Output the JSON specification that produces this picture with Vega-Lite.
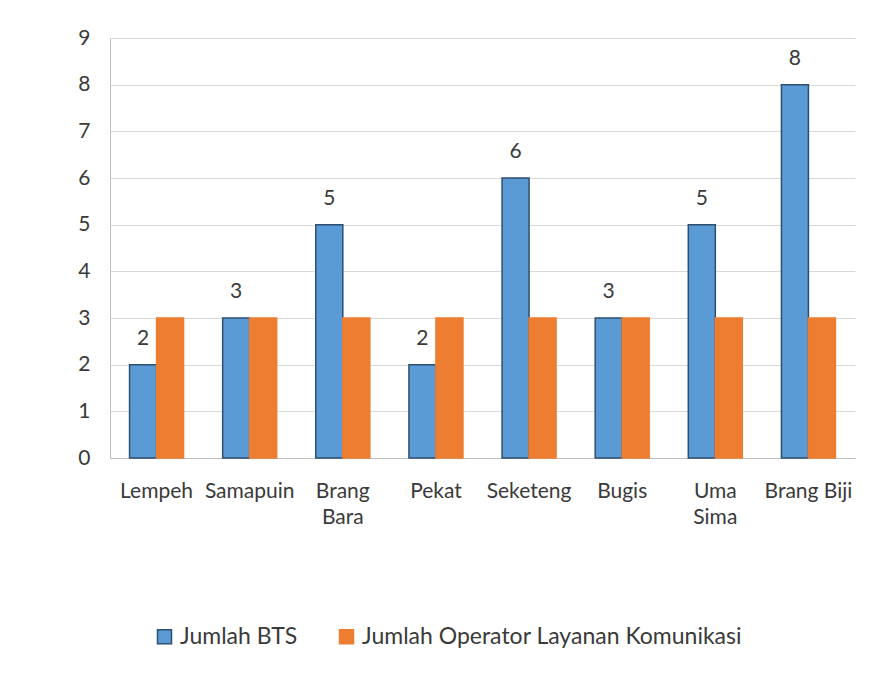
{
  "$schema": "https://vega.github.io/schema/vega-lite/v6.json",
  "width": 745,
  "height": 420,
  "autosize": "none",
  "padding": {"left": 110, "top": 38, "right": 28, "bottom": 220},
  "background": "white",
  "config": {"font": "Lato", "view": {"stroke": null}},
  "data": {"values": [
    {"kategori": "Lempeh", "seri": "Jumlah BTS", "nilai": 2},
    {"kategori": "Lempeh", "seri": "Jumlah Operator Layanan Komunikasi", "nilai": 3},
    {"kategori": "Samapuin", "seri": "Jumlah BTS", "nilai": 3},
    {"kategori": "Samapuin", "seri": "Jumlah Operator Layanan Komunikasi", "nilai": 3},
    {"kategori": "Brang Bara", "seri": "Jumlah BTS", "nilai": 5},
    {"kategori": "Brang Bara", "seri": "Jumlah Operator Layanan Komunikasi", "nilai": 3},
    {"kategori": "Pekat", "seri": "Jumlah BTS", "nilai": 2},
    {"kategori": "Pekat", "seri": "Jumlah Operator Layanan Komunikasi", "nilai": 3},
    {"kategori": "Seketeng", "seri": "Jumlah BTS", "nilai": 6},
    {"kategori": "Seketeng", "seri": "Jumlah Operator Layanan Komunikasi", "nilai": 3},
    {"kategori": "Bugis", "seri": "Jumlah BTS", "nilai": 3},
    {"kategori": "Bugis", "seri": "Jumlah Operator Layanan Komunikasi", "nilai": 3},
    {"kategori": "Uma Sima", "seri": "Jumlah BTS", "nilai": 5},
    {"kategori": "Uma Sima", "seri": "Jumlah Operator Layanan Komunikasi", "nilai": 3},
    {"kategori": "Brang Biji", "seri": "Jumlah BTS", "nilai": 8},
    {"kategori": "Brang Biji", "seri": "Jumlah Operator Layanan Komunikasi", "nilai": 3}
  ]},
  "encoding": {
    "x": {
      "field": "kategori", "type": "nominal", "sort": null,
      "scale": {"paddingInner": 0.42, "paddingOuter": 0.21},
      "axis": {
        "title": null, "labelAngle": 0, "labelFontSize": 21, "labelColor": "#3a3a3a",
        "ticks": false, "domainColor": "#bfbfbf", "labelPadding": 33, "labelBaseline": "middle",
        "labelLineHeight": 26,
        "labelExpr": "datum.label == 'Brang Bara' ? ['Brang', 'Bara'] : datum.label == 'Uma Sima' ? ['Uma', 'Sima'] : datum.label"
      }
    },
    "xOffset": {"field": "seri", "type": "nominal", "sort": ["Jumlah BTS", "Jumlah Operator Layanan Komunikasi"], "scale": {"paddingInner": 0}},
    "y": {
      "field": "nilai", "type": "quantitative",
      "scale": {"domain": [0, 9]},
      "axis": {
        "title": null, "values": [0, 1, 2, 3, 4, 5, 6, 7, 8, 9], "grid": true, "gridColor": "#d9d9d9",
        "domainColor": "#bfbfbf", "ticks": false, "labelFontSize": 21, "labelColor": "#3a3a3a", "labelPadding": 20
      }
    }
  },
  "layer": [
    {
      "mark": {"type": "bar", "strokeWidth": 1.5},
      "encoding": {
        "color": {
          "field": "seri", "type": "nominal",
          "scale": {"domain": ["Jumlah BTS", "Jumlah Operator Layanan Komunikasi"], "range": ["#5b9bd5", "#ed7d31"]},
          "legend": {
            "title": null, "orient": "none", "direction": "horizontal", "legendX": 43, "legendY": 587,
            "symbolType": "square", "symbolSize": 196, "symbolStrokeWidth": 1.5, "labelFontSize": 23, "labelColor": "#3a3a3a",
            "columnPadding": 37, "labelOffset": 4, "labelLimit": 700
          }
        },
        "stroke": {
          "field": "seri", "type": "nominal",
          "scale": {"domain": ["Jumlah BTS", "Jumlah Operator Layanan Komunikasi"], "range": ["#2e4f72", "#ed7d31"]}
        }
      }
    },
    {
      "transform": [{"filter": "datum.seri == 'Jumlah BTS'"}],
      "mark": {"type": "text", "baseline": "bottom", "dy": -16, "fontSize": 21, "color": "#3a3a3a"},
      "encoding": {"text": {"field": "nilai", "type": "quantitative"}}
    }
  ]
}
